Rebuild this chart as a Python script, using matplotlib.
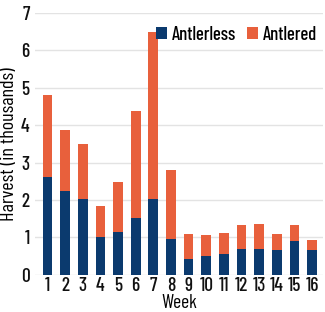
import numpy as np
import matplotlib.pyplot as plt

plt.rcParams['font.family'] = ['Barlow Condensed', 'DejaVu Sans']
plt.rcParams['font.weight'] = 'medium'

weeks = list(range(1, 17))
antlerless = [2.6, 2.25, 2.02, 1.0, 1.14, 1.51, 2.01, 0.96, 0.42, 0.5, 0.56, 0.69, 0.69, 0.65, 0.9, 0.65]
totals = [4.8, 3.87, 3.5, 1.83, 2.49, 4.38, 6.49, 2.81, 1.09, 1.06, 1.12, 1.33, 1.35, 1.09, 1.33, 0.93]
antlered = [t - a for t, a in zip(totals, antlerless)]

navy = '#0b3a6e'
orange = '#e8603c'

fig = plt.figure(figsize=(3.25, 3.12), dpi=100)
ax = fig.add_axes([0.108, 0.12, 0.885, 0.838])

x = np.arange(len(weeks))
ax.bar(x, antlerless, width=0.55, color=navy, label='Antlerless', zorder=3)
ax.bar(x, antlered, width=0.55, bottom=antlerless, color=orange, label='Antlered', zorder=3)

ax.set_ylim(0, 7)
ax.set_xlim(-0.7, 15.6)
ax.set_yticks(range(0, 8))
ax.set_xticks(x)
ax.set_xticklabels([str(w) for w in weeks])
ax.tick_params(length=0, labelsize=14, colors='#111111', pad=2)
ax.tick_params(axis='y', pad=4)
ax.grid(axis='y', color='#e3e3e3', linewidth=1, zorder=0)
for s in ax.spines.values():
    s.set_visible(False)

ax.set_xlabel('Week', fontsize=14, labelpad=-1)
ax.set_ylabel('Harvest (in thousands)', fontsize=14.5, labelpad=2)

ax.legend(loc='upper right', bbox_to_anchor=(1.02, 0.995), ncol=2, frameon=False, fontsize=13.5,
          handlelength=0.6, handleheight=0.6, handletextpad=0.25, columnspacing=0.6, borderaxespad=0.2)

fig.savefig('out.png', dpi=100)
